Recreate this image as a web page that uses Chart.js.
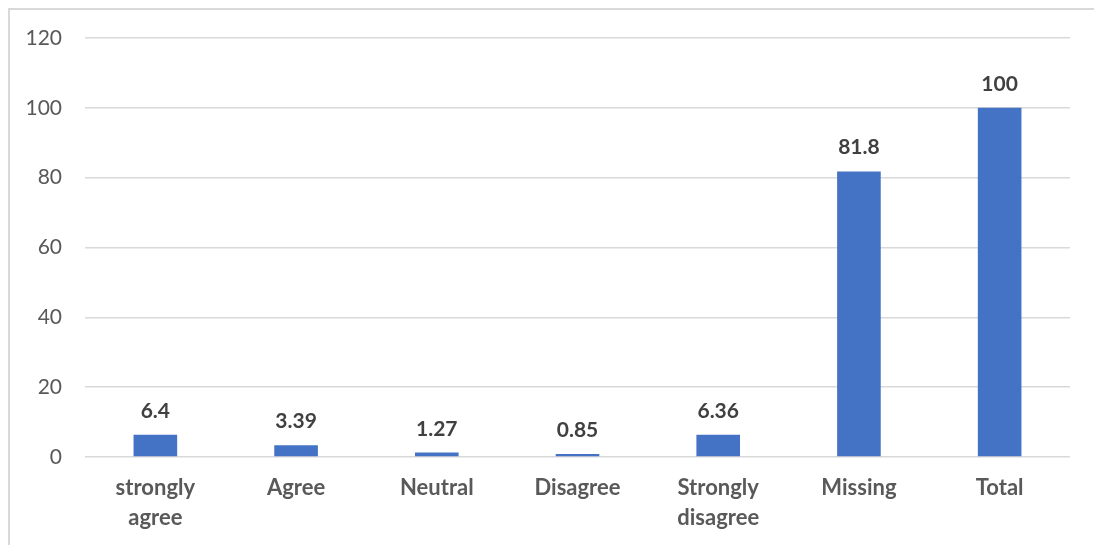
<!DOCTYPE html>
<html>
<head>
<meta charset="utf-8">
<script src="https://cdn.jsdelivr.net/npm/chart.js@4/dist/chart.umd.min.js"></script>
<style>
    html, body { margin: 0; padding: 0; background: #ffffff; }
    #quadro {
        position: absolute; left: 8px; top: 8px; right: 0; bottom: 0;
        border-top: 2px solid #d9d9d9; border-left: 2px solid #d9d9d9;
    }
    #caixa { position: absolute; left: 0; top: 0; width: 1094px; height: 545px; }
</style>
</head>
<body>
<div id="quadro"></div>
<div id="caixa"><canvas id="grafico"></canvas></div>
<script>
// Respostas (%)
const categorias = [['strongly', 'agree'], 'Agree', 'Neutral', 'Disagree', ['Strongly', 'disagree'], 'Missing', 'Total'];
const percentuais = [6.4, 3.39, 1.27, 0.85, 6.36, 81.8, 100];
const ticksY = [0, 20, 40, 60, 80, 100, 120];

const fonte = 'Lato, "Open Sans", sans-serif';

// Escreve o valor acima de cada barra
const rotulosValor = {
    id: 'rotulosValor',
    afterDatasetsDraw(chart) {
        const ctx = chart.ctx;
        const meta = chart.getDatasetMeta(0);
        ctx.save();
        ctx.font = 'bold 21px ' + fonte;
        ctx.fillStyle = '#404040';
        ctx.textAlign = 'center';
        ctx.textBaseline = 'alphabetic';
        meta.data.forEach(function (barra, i) {
            ctx.fillText(String(percentuais[i]), barra.x, barra.y - 17);
        });
        ctx.restore();
    }
};

const ctx = document.getElementById('grafico').getContext('2d');
const grafico = new Chart(ctx, {
    type: 'bar',
    data: {
        labels: categorias,
        datasets: [{
            data: percentuais,
            backgroundColor: '#4472c4',
            borderWidth: 0,
            barPercentage: 0.31,
            categoryPercentage: 1
        }]
    },
    options: {
        responsive: true,
        maintainAspectRatio: false,
        animation: false,
        layout: { padding: { left: 0, right: 24, top: 38, bottom: 0 } },
        plugins: {
            legend: { display: false },
            tooltip: { enabled: false }
        },
        scales: {
            x: {
                grid: { display: false, drawTicks: false },
                border: { display: false },
                ticks: {
                    color: '#595959',
                    font: { family: fonte, size: 22, weight: 'bold', lineHeight: 30 / 22 },
                    padding: 16,
                    maxRotation: 0,
                    autoSkip: false
                },
                afterFit(scale) { scale.height = 88; }
            },
            y: {
                min: 0,
                max: 120,
                afterBuildTicks(scale) {
                    scale.ticks = ticksY.map(v => ({ value: v }));
                },
                grid: { color: '#d9d9d9', lineWidth: 1.5, drawTicks: false },
                border: { display: false },
                ticks: {
                    color: '#595959',
                    font: { family: fonte, size: 21 },
                    padding: 23
                },
                afterFit(scale) { scale.width = 85; }
            }
        }
    },
    plugins: [rotulosValor]
});
</script>
</body>
</html>
